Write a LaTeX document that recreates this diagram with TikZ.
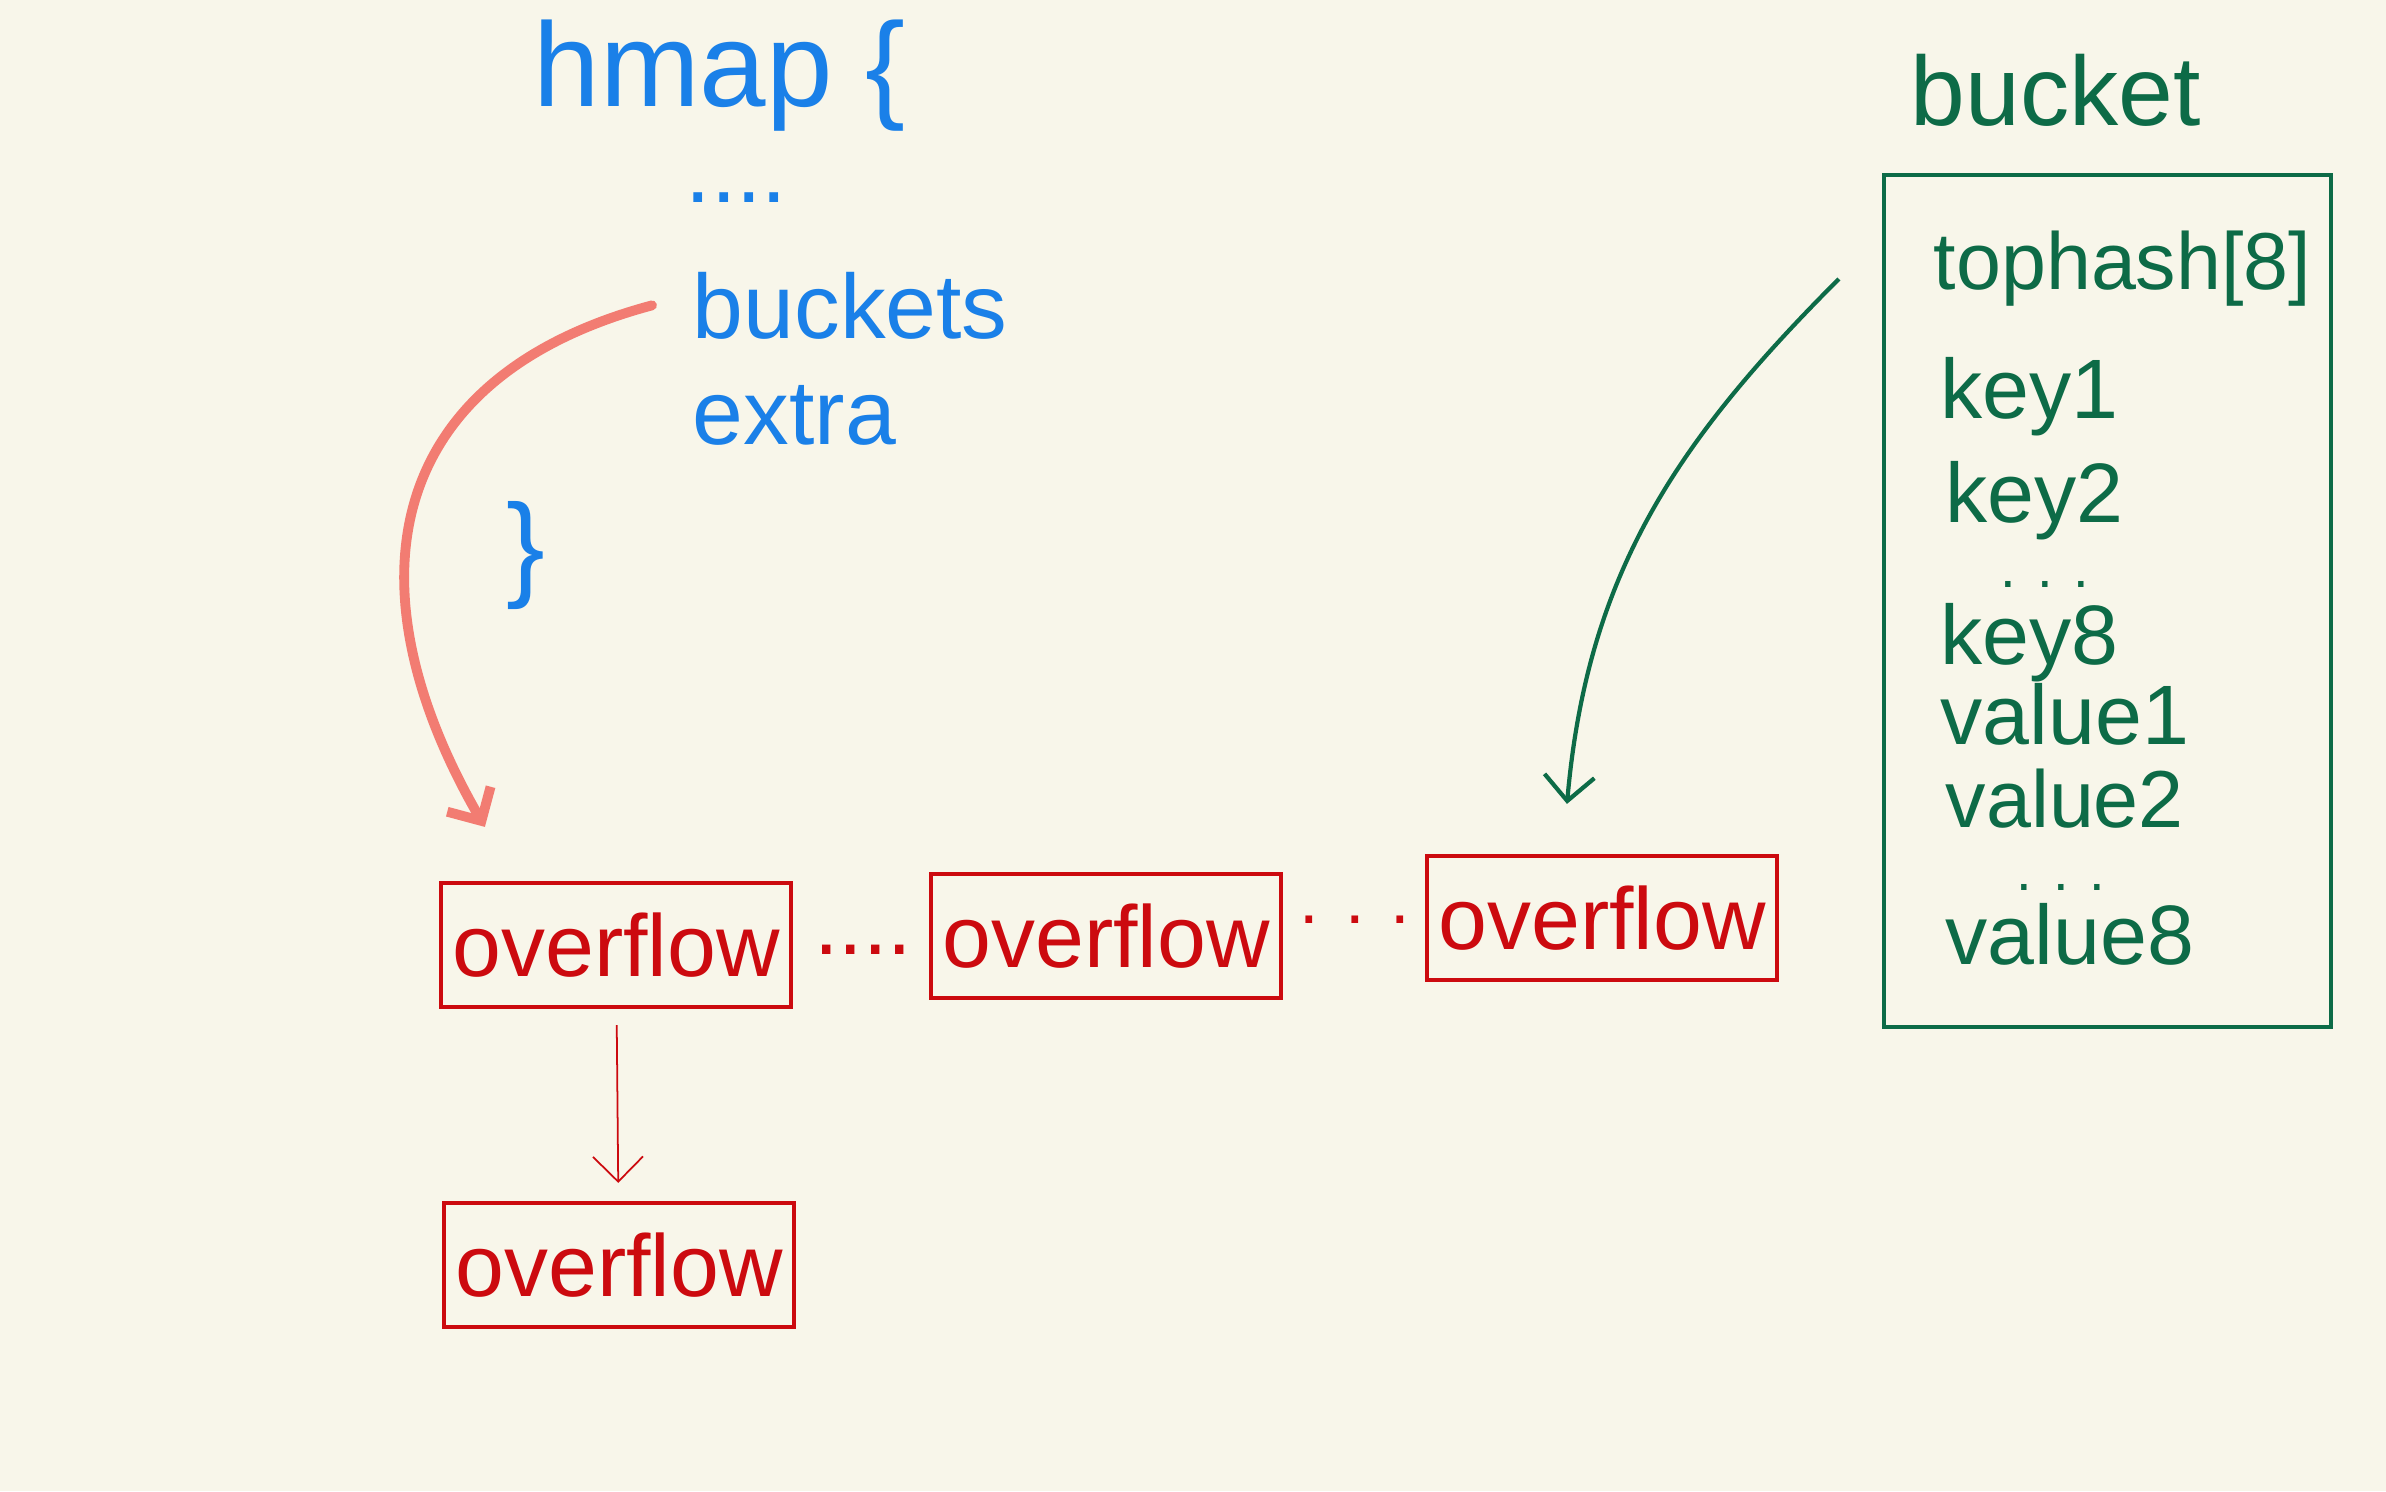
\documentclass[tikz,border=0pt]{standalone}
\usepackage{fontspec}
\setmainfont{Liberation Sans}
\usetikzlibrary{arrows.meta,positioning}
\usepackage{xcolor}
\definecolor{paper}{HTML}{F8F6EA}
\definecolor{inkblue}{HTML}{1A80E8}
\definecolor{inkred}{HTML}{CC0A0F}
\definecolor{inkgreen}{HTML}{0D6B47}
\definecolor{inksalmon}{HTML}{F27C72}

\begin{document}
\begin{tikzpicture}[every node/.style={
    inner sep=2pt
},
    hmap_text/.style={text=inkblue, font=\fontsize{26}{30}\selectfont, anchor=base west, inner sep=0pt},
    bucket_text/.style={text=inkgreen, font=\fontsize{24}{28}\selectfont, anchor=base west, inner sep=0pt},
    bucket_dots/.style={bucket_text, font=\fontsize{16}{18}\selectfont},
    overflow_box/.style={rectangle, draw=inkred, line width=1.2pt, text=inkred,
        minimum width=3.5cm, minimum height=1.24cm, font=\fontsize{25}{30}\selectfont},
    gap_dots/.style={text=inkred, font=\fontsize{25}{30}\selectfont},
    >={Straight Barb[length=2.5mm, width=5mm]}
]
    \fill[paper] (0,0) rectangle (23.86,-14.91);

	%hmap

	\node (hmap_title) [hmap_text, font=\fontsize{34}{40}\selectfont, shift={(5.33, -1.06)}]
	{
		hmap \{
	};
	\node (hmap_dots) [hmap_text, shift={(6.85, -2.02)}]
	{
		....
	};
	\node (buckets_field) [hmap_text, shift={(6.92, -3.38)}]
	{
		buckets
	};
	\node (extra_field) [hmap_text, shift={(6.92, -4.44)}]
	{
		extra
	};
	\node (hmap_end) [text=inkblue, font=\fontsize{33}{40}\selectfont, shift={(5.26, -5.55)}]
	{
		\}
	};

	%bucket

	\node (bucket_title) [bucket_text, font=\fontsize{28}{34}\selectfont, shift={(19.1, -1.25)}]
	{
		bucket
	};
	\node (bucket_box) [rectangle, draw=inkgreen, line width=1.2pt,
	    minimum width=4.47cm, minimum height=8.52cm, shift={(21.075, -6.01)}]
	{};
	\node (tophash_field) [bucket_text, font=\fontsize{23}{28}\selectfont, shift={(19.33, -2.89)}]
	{
		tophash[8]
	};
	\node (key_one) [bucket_text, shift={(19.4, -4.18)}]
	{
		key1
	};
	\node (key_two) [bucket_text, shift={(19.45, -5.22)}]
	{
		key2
	};
	\node (key_dots) [bucket_dots, shift={(20.0, -5.87)}]
	{
		. . .
	};
	\node (key_eight) [bucket_text, shift={(19.4, -6.64)}]
	{
		key8
	};
	\node (value_one) [bucket_text, shift={(19.4, -7.44)}]
	{
		value1
	};
	\node (value_two) [bucket_text, font=\fontsize{23}{28}\selectfont, shift={(19.45, -8.27)}]
	{
		value2
	};
	\node (value_dots) [bucket_dots, shift={(20.16, -8.9)}]
	{
		. . .
	};
	\node (value_eight) [bucket_text, shift={(19.45, -9.64)}]
	{
		value8
	};

	%overflow

	\node (overflow_one) [overflow_box, shift={(6.16, -9.45)}]
	{
		overflow
	};
	\node (overflow_two) [overflow_box, shift={(11.06, -9.36)}]
	{
		overflow
	};
	\node (overflow_three) [overflow_box, shift={(16.02, -9.18)}]
	{
		overflow
	};
	\node (overflow_four) [overflow_box, shift={(6.19, -12.65)}]
	{
		overflow
	};
	\node (gap_one) [gap_dots, shift={(8.63, -9.5)}]
	{
		....
	};
	\node (gap_two) [gap_dots, font=\fontsize{20}{24}\selectfont, shift={(13.55, -9.2)}]
	{
		. . .
	};



    \draw[->, inksalmon, line width=2.8pt, line cap=round, looseness=1.3] ([xshift=-4mm]buckets_field.west) to[out=195, in=120] ([shift={(0.46, 0.54)}]overflow_one.north west);
    \draw[->, inkgreen, line width=1.2pt] ([shift={(-0.43, -1.06)}]bucket_box.north west) to[out=225, in=85] ([shift={(-0.35, 0.5)}]overflow_three.north);
    \draw[->, inkred, line width=0.5pt, shorten <=1.6mm, shorten >=1.8mm] (overflow_one) to (overflow_four);



\end{tikzpicture}
\end{document}
